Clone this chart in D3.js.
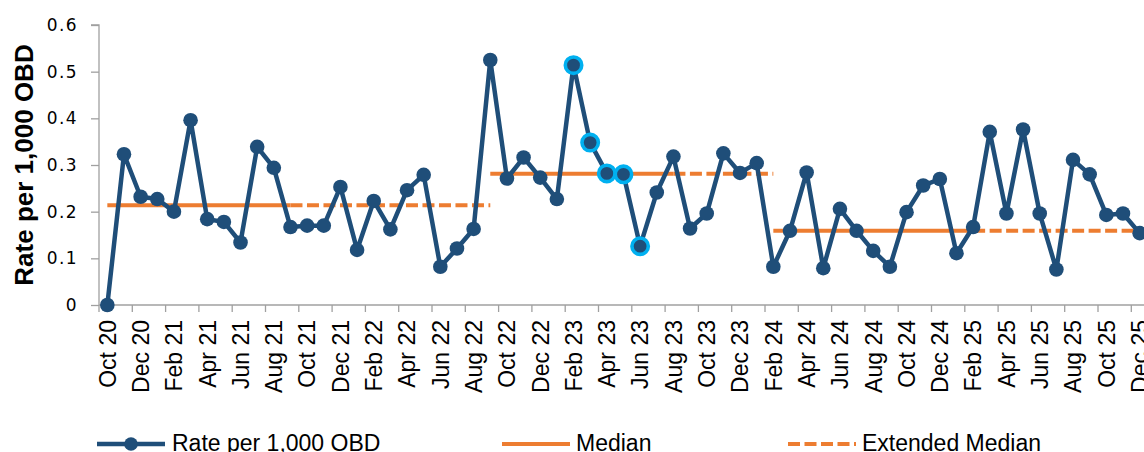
<!DOCTYPE html>
<html>
<head>
<meta charset="utf-8">
<script src="https://cdn.jsdelivr.net/npm/d3@7/dist/d3.min.js"></script>
<style>
  html, body { margin: 0; padding: 0; background: #fff; }
  svg { display: block; }
  text { font-family: Arial, "Liberation Sans", sans-serif; fill: #000; }
  text.ytick { font-family: "DejaVu Sans", Verdana, sans-serif; font-size: 17px; letter-spacing: 1.4px; }
</style>
</head>
<body>
<svg id="chart" width="1144" height="452"></svg>
<script>
// Monthly categories, Oct 2020 – Dec 2025
const months = [
  "Oct 20","Nov 20","Dec 20","Jan 21","Feb 21","Mar 21","Apr 21","May 21","Jun 21","Jul 21","Aug 21","Sep 21",
  "Oct 21","Nov 21","Dec 21","Jan 22","Feb 22","Mar 22","Apr 22","May 22","Jun 22","Jul 22","Aug 22","Sep 22",
  "Oct 22","Nov 22","Dec 22","Jan 23","Feb 23","Mar 23","Apr 23","May 23","Jun 23","Jul 23","Aug 23","Sep 23",
  "Oct 23","Nov 23","Dec 23","Jan 24","Feb 24","Mar 24","Apr 24","May 24","Jun 24","Jul 24","Aug 24","Sep 24",
  "Oct 24","Nov 24","Dec 24","Jan 25","Feb 25","Mar 25","Apr 25","May 25","Jun 25","Jul 25","Aug 25","Sep 25",
  "Oct 25","Nov 25","Dec 25"
];

// Rate per 1,000 occupied bed days
const rate = [
  0.000, 0.323, 0.232, 0.227, 0.200, 0.396, 0.184, 0.178, 0.134, 0.339, 0.294, 0.167,
  0.170, 0.170, 0.253, 0.118, 0.223, 0.162, 0.246, 0.279, 0.082, 0.121, 0.163, 0.525,
  0.271, 0.316, 0.273, 0.227, 0.514, 0.348, 0.282, 0.280, 0.126, 0.241, 0.318, 0.164,
  0.196, 0.325, 0.283, 0.304, 0.082, 0.159, 0.284, 0.079, 0.206, 0.159, 0.116, 0.082,
  0.199, 0.256, 0.270, 0.111, 0.167, 0.371, 0.196, 0.376, 0.196, 0.076, 0.311, 0.280,
  0.193, 0.196, 0.154
];

// Points flagged as a special-cause signal
const flagged = [28, 29, 30, 31, 32];

// Median periods: median value, first/last month of the baseline, last month of the extension
const medianValues = [0.214, 0.281, 0.159];
const medianStart  = [0, 23, 40];
const medianEnd    = [11, 34, 52];
const extendedEnd  = [23, 40, 62];

const yTicks = [0, 0.1, 0.2, 0.3, 0.4, 0.5, 0.6];
const yTickLabels = ["0", "0.1", "0.2", "0.3", "0.4", "0.5", "0.6"];

const BLUE = "#1F4E79", ORANGE = "#ED7D31", CYAN = "#00B0F0", AXIS = "#A0A0A0";

const svg = d3.select("#chart");
const plotLeft = 99, plotTop = 25, plotBottom = 305, step = 16.65;

const x = d3.scaleBand()
  .domain(months)
  .range([plotLeft, plotLeft + step * months.length])
  .paddingInner(0).paddingOuter(0);
const cx = i => x(months[i]) + x.bandwidth() / 2;

const y = d3.scaleLinear().domain([0, 0.6]).range([plotBottom, plotTop]);

// Y axis line and tick marks
const yAxis = svg.append("g").attr("transform", `translate(${plotLeft},0)`)
  .call(d3.axisLeft(y).tickValues(yTicks).tickSize(8).tickFormat(""));
yAxis.select(".domain").attr("stroke", AXIS).attr("stroke-width", 1.3)
  .attr("d", `M-8,${plotTop}H0V${plotBottom}`);
yAxis.selectAll(".tick line").attr("stroke", AXIS).attr("stroke-width", 1.3);
yAxis.selectAll(".tick text").remove();

// Y tick labels
svg.append("g").selectAll("text")
  .data(yTicks)
  .join("text")
  .attr("class", "ytick")
  .attr("x", 78)
  .attr("y", d => y(d) + 6)
  .attr("text-anchor", "end")
  .text((d, i) => yTickLabels[i]);

// X axis: tick marks every two months on category boundaries
const xAxisG = svg.append("g");
xAxisG.append("line")
  .attr("x1", plotLeft).attr("x2", plotLeft + step * months.length)
  .attr("y1", plotBottom).attr("y2", plotBottom)
  .attr("stroke", AXIS).attr("stroke-width", 1.3);
xAxisG.selectAll("line.tick")
  .data(d3.range(0, months.length + 1, 2))
  .join("line")
  .attr("class", "tick")
  .attr("x1", i => plotLeft + i * step).attr("x2", i => plotLeft + i * step)
  .attr("y1", plotBottom).attr("y2", plotBottom + 7)
  .attr("stroke", AXIS).attr("stroke-width", 1.3);
xAxisG.selectAll("text")
  .data(months.filter((m, i) => i % 2 === 0))
  .join("text")
  .attr("transform", d => `translate(${x(d) + x.bandwidth() / 2},320) rotate(-90)`)
  .attr("text-anchor", "end")
  .attr("dy", "0.36em")
  .style("font-size", "23px")
  .text(d => d);

// Y axis title
svg.append("text")
  .attr("transform", `translate(33,165) rotate(-90)`)
  .attr("text-anchor", "middle")
  .style("font-size", "26px")
  .attr("font-weight", "bold")
  .text("Rate per 1,000 OBD");

// Median and extended median lines
const hline = (v, a, b) => d3.line()([[cx(a), y(v)], [cx(b), y(v)]]);
medianValues.forEach((v, k) => {
  svg.append("path").attr("d", hline(v, medianStart[k], medianEnd[k]))
    .attr("stroke", ORANGE).attr("stroke-width", 4).attr("fill", "none");
  svg.append("path").attr("d", hline(v, medianEnd[k], extendedEnd[k]))
    .attr("stroke", ORANGE).attr("stroke-width", 4).attr("fill", "none")
    .attr("stroke-dasharray", "12,4.5");
});

// Rate line
const line = d3.line().x((d, i) => cx(i)).y(d => y(d));
svg.append("path").datum(rate).attr("d", line)
  .attr("stroke", BLUE).attr("stroke-width", 4.5).attr("fill", "none")
  .attr("stroke-linejoin", "round");

// Markers
svg.selectAll("circle.pt")
  .data(rate)
  .join("circle")
  .attr("class", "pt")
  .attr("cx", (d, i) => cx(i)).attr("cy", d => y(d))
  .attr("r", (d, i) => flagged.includes(i) ? 8.2 : 7.3)
  .attr("fill", BLUE)
  .attr("stroke", (d, i) => flagged.includes(i) ? CYAN : "none")
  .attr("stroke-width", 3.6);

// Legend
const ly = 444, lb = 451;
const legend = svg.append("g");
legend.append("line").attr("x1", 97).attr("x2", 165).attr("y1", ly).attr("y2", ly)
  .attr("stroke", BLUE).attr("stroke-width", 4.5);
legend.append("circle").attr("cx", 131).attr("cy", ly).attr("r", 6.8).attr("fill", BLUE);
legend.append("text").attr("x", 172).attr("y", lb).style("font-size", "23px").text("Rate per 1,000 OBD");

legend.append("line").attr("x1", 502).attr("x2", 570).attr("y1", ly).attr("y2", ly)
  .attr("stroke", ORANGE).attr("stroke-width", 4);
legend.append("text").attr("x", 576).attr("y", lb).style("font-size", "23px").text("Median");

legend.append("line").attr("x1", 788).attr("x2", 856).attr("y1", ly).attr("y2", ly)
  .attr("stroke", ORANGE).attr("stroke-width", 4).attr("stroke-dasharray", "12,4.5");
legend.append("text").attr("x", 862).attr("y", lb).style("font-size", "23px").text("Extended Median");
</script>
</body>
</html>
